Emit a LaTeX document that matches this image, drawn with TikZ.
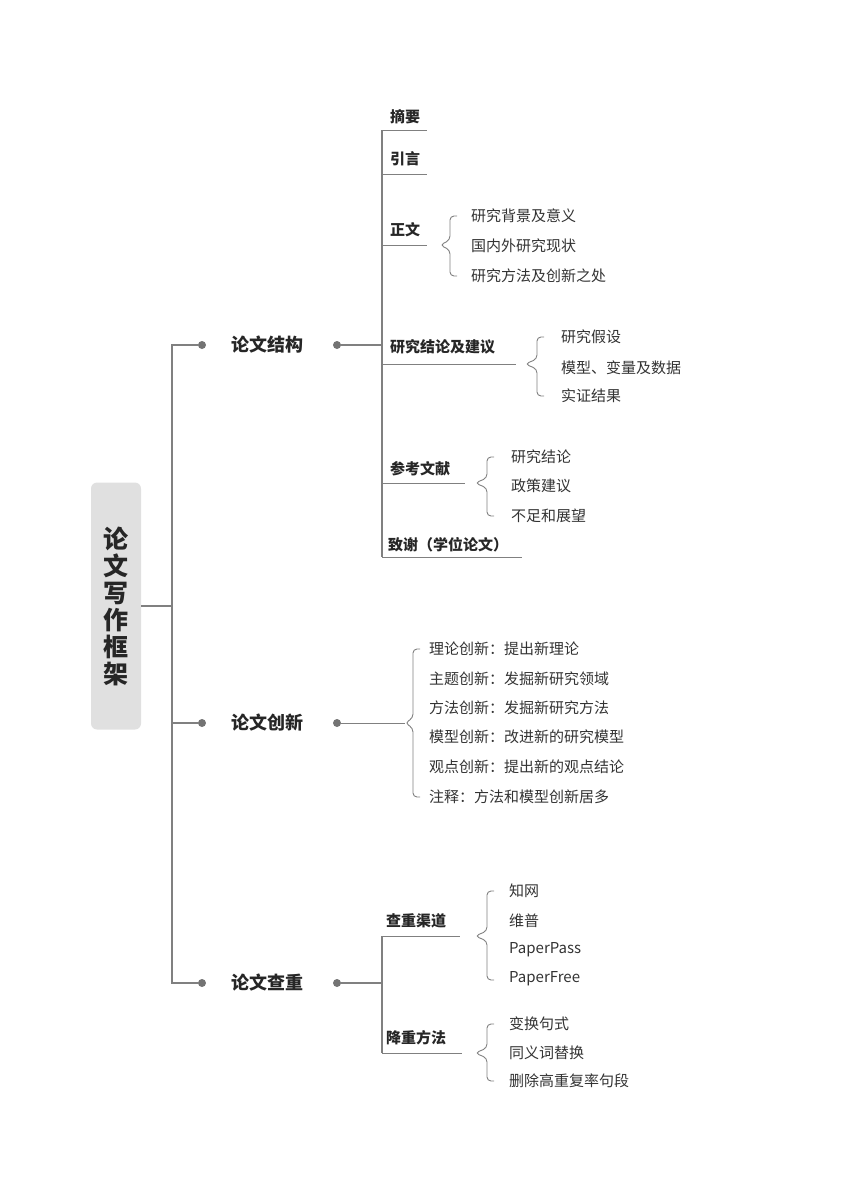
\documentclass[tikz,border=0pt]{standalone}
\usepackage{fontspec}
\setmainfont{Noto Sans CJK SC}
\begin{document}
\begin{tikzpicture}[x=1pt,y=-1pt,
  ln/.style={draw=black!50,line width=1.2pt},
  thin/.style={draw=black!50,line width=0.9pt},
  dotc/.style={circle,fill=black!55,inner sep=0pt,minimum size=8pt},
  lone/.style={font=\bfseries\fontsize{18}{20}\selectfont,text=black!85},
  ltwo/.style={font=\bfseries\fontsize{15}{18}\selectfont,text=black!85,anchor=west,inner sep=0pt},
  item/.style={font=\fontsize{15}{18}\selectfont,text=black!80,anchor=west,inner sep=0pt}]
\useasboundingbox (0,0) rectangle (848,1200);
\newcommand\mybrace[5]{\draw[thin,rounded corners=4pt] (#2+7,#3) -- (#2,#3) -- (#2,#5-5) -- (#1,#5) -- (#2,#5+5) -- (#2,#4) -- (#2+7,#4);}
% root
\node[fill=black!12,rounded corners=6pt,minimum width=50pt,minimum height=247pt,inner sep=0pt] (root) at (116,606) {};
\node[font=\bfseries\fontsize{25}{30}\selectfont,text=black!85,align=center] (roott) at (116,606) {论\\[-3pt]文\\[-3pt]写\\[-3pt]作\\[-3pt]框\\[-3pt]架};
\coordinate (j) at (172,606);
\draw[ln] (root.east) -- (j);
\node[dotc] (d1) at (202,345) {};
\node[dotc] (d2) at (202,723) {};
\node[dotc] (d3) at (202,983) {};
\draw[ln] (d1) -| (172,983) -- (d3);
\draw[ln] (172,723) -- (d2);
\node[lone] (a) at (267,345) {论文结构};
\node[lone] (b) at (267,723) {论文创新};
\node[lone] (c) at (267,983) {论文查重};
\node[dotc] (ra) at (337,345) {};
\node[dotc] (rb) at (337,723) {};
\node[dotc] (rc) at (337,983) {};
% structure
\coordinate (sa) at (382,345);
\draw[ln,line width=1.8pt] (ra) -- (sa);
\draw[ln] (382,130) -- (382,557);
\node[ltwo] (s1) at (390,117) {摘要};
\node[ltwo] (s2) at (390,159) {引言};
\node[ltwo] (s3) at (390,230) {正文};
\node[ltwo] (s4) at (390,347) {研究结论及建议};
\node[ltwo] (s5) at (390,469) {参考文献};
\node[ltwo] (s6) at (388,545) {致谢（学位论文）};
\draw[thin] (382,130) -- (427,130);
\draw[thin] (382,174) -- (427,174);
\draw[thin] (382,245) -- (427,245);
\draw[thin] (382,364) -- (516,364);
\draw[thin] (382,483) -- (465,483);
\draw[thin] (382,557) -- (522,557);
\mybrace{440}{450}{216}{276}{245}
\node[item] at (471,216) {研究背景及意义};
\node[item] at (471,246) {国内外研究现状};
\node[item] at (471,276) {研究方法及创新之处};
\mybrace{525}{537}{337}{396}{364}
\node[item] at (561,337) {研究假设};
\node[item] at (561,368) {模型、变量及数据};
\node[item] at (561,396) {实证结果};
\mybrace{475}{487}{457}{516}{483}
\node[item] at (511,457) {研究结论};
\node[item] at (511,486) {政策建议};
\node[item] at (511,516) {不足和展望};
% innovation
\coordinate (bt) at (405,723);
\draw[thin] (rb) -- (bt);
\mybrace{405}{413}{649}{797}{723}
\node[item] at (429,649) {理论创新：提出新理论};
\node[item] at (429,679) {主题创新：发掘新研究领域};
\node[item] at (429,708) {方法创新：发掘新研究方法};
\node[item] at (429,737) {模型创新：改进新的研究模型};
\node[item] at (429,767) {观点创新：提出新的观点结论};
\node[item] at (429,797) {注释：方法和模型创新居多};
% check
\coordinate (ca) at (382,983);
\draw[ln] (rc) -- (ca);
\draw[ln] (382,936) -- (382,1053);
\node[ltwo] (c1) at (386,921) {查重渠道};
\node[ltwo] (c2) at (386,1038) {降重方法};
\draw[thin] (382,936) -- (460,936);
\draw[thin] (382,1053) -- (462,1053);
\mybrace{475}{487}{891}{980}{936}
\node[item] at (509,891) {知网};
\node[item] at (509,921) {维普};
\node[item] at (509,950) {PaperPass};
\node[item] at (509,979) {PaperFree};
\mybrace{475}{487}{1024}{1081}{1053}
\node[item] at (509,1024) {变换句式};
\node[item] at (509,1053) {同义词替换};
\node[item] at (509,1081) {删除高重复率句段};
\end{tikzpicture}
\end{document}
